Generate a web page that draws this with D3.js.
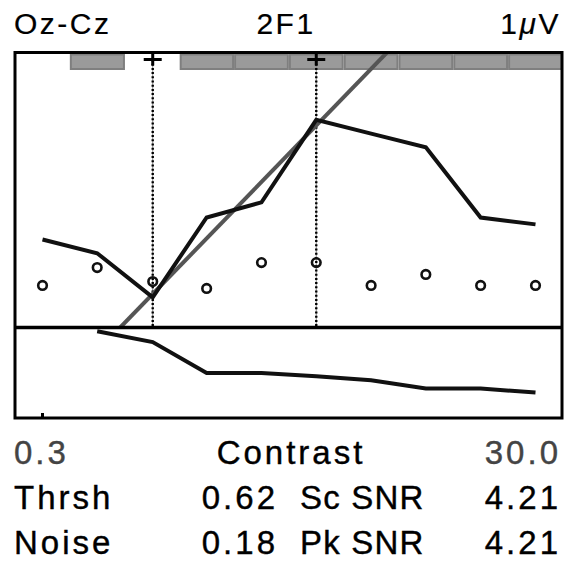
<!DOCTYPE html>
<html>
<head>
<meta charset="utf-8">
<script src="https://cdn.jsdelivr.net/npm/d3@7/dist/d3.min.js"></script>
<style>
  html, body { margin: 0; padding: 0; background: #fff; }
  svg { display: block; }
  text { font-family: "Liberation Sans", Arial, Helvetica, sans-serif; }
</style>
</head>
<body>
<svg id="chart" width="571" height="561"></svg>
<script>
// Sweep contrast levels (%), one per bin
const contrasts = [0.3, 0.5, 0.84, 1.39, 2.32, 3.87, 6.46, 10.77, 17.97, 30.0];
// 2F1 response amplitude (µV) per bin
const amplitude = [0.32, 0.27, 0.11, 0.40, 0.455, 0.755, 0.705, 0.655, 0.40, 0.375];
// Noise estimate (µV) per bin
const noise = [0.153, 0.218, 0.167, 0.142, 0.236, 0.236, 0.153, 0.193, 0.153, 0.153];
// Response phase (deg) per bin; null where not drawn
const phase = [null, 15, 58, 181, 181, 194, 210, 243, 243, 259];
// Bins flagged as significant (gray boxes along the top)
const significant = [0, 1, 0, 1, 1, 1, 1, 1, 1, 1];
// Regression fit: threshold contrast and slope (µV per log10 unit)
const threshold = 0.62;
const slope = 0.924;
// Contrast range used for the fit (marked with dotted lines)
const fitRange = [0.84, 3.87];
// Labels
const titleLabels = ["Oz-Cz", "2F1", "1\u03bcV"];
const axisLabels = ["0.3", "Contrast", "30.0"];
const statRows = [
  ["Thrsh", "0.62", "Sc SNR", "4.21"],
  ["Noise", "0.18", "Pk SNR", "4.21"]
];

const svg = d3.select("#chart");

// frame geometry
const fLeft = 15, fRight = 562, fTop = 52.5, fMid = 327.5, fBottom = 418;

const x = d3.scaleLog().domain([0.3, 30]).range([42.5, 535.5]);
const yAmp = d3.scaleLinear().domain([0, 1]).range([fMid, fTop]);
const yPh = d3.scaleLinear().domain([0, 360]).range([fMid, fBottom]);

// bin edges: midpoints between neighbouring levels on the log axis
const lx = contrasts.map(c => x(c));
const edges = lx.map((v, i) => {
  const prev = i > 0 ? lx[i - 1] : v - (lx[1] - lx[0]);
  const next = i < lx.length - 1 ? lx[i + 1] : v + (lx[1] - lx[0]);
  return [(prev + v) / 2, (v + next) / 2];
});

// significance boxes
svg.append("g").selectAll("rect")
  .data(significant.map((s, i) => ({ s, e: edges[i] })).filter(d => d.s))
  .join("rect")
  .attr("x", d => d.e[0] + 1)
  .attr("y", fTop + 2)
  .attr("width", d => d.e[1] - d.e[0] - 2)
  .attr("height", 14.5)
  .attr("fill", "#9a9a9a")
  .attr("stroke", "#7f7f7f")
  .attr("stroke-width", 2);

// dotted markers for the fit range
const markers = svg.append("g");
fitRange.forEach(c => {
  const xv = x(c);
  markers.append("line")
    .attr("x1", xv).attr("x2", xv).attr("y1", fTop + 7).attr("y2", fMid)
    .attr("stroke", "#888").attr("stroke-width", 1);
  markers.append("line")
    .attr("x1", xv).attr("x2", xv).attr("y1", fTop + 7).attr("y2", fMid)
    .attr("stroke", "#000").attr("stroke-width", 2.4)
    .attr("stroke-dasharray", "2,2.2");
  markers.append("line")
    .attr("x1", xv - 9).attr("x2", xv + 9).attr("y1", fTop + 7).attr("y2", fTop + 7)
    .attr("stroke", "#000").attr("stroke-width", 3);
  markers.append("line")
    .attr("x1", xv).attr("x2", xv).attr("y1", fTop).attr("y2", fTop + 13)
    .attr("stroke", "#000").attr("stroke-width", 3);
});

// clip for the amplitude panel
svg.append("clipPath").attr("id", "ampClip")
  .append("rect").attr("x", fLeft).attr("y", fTop).attr("width", fRight - fLeft).attr("height", fMid - fTop);

// regression line from threshold upward
const fitAmp = c => slope * Math.log10(c / threshold);
svg.append("line")
  .attr("clip-path", "url(#ampClip)")
  .attr("x1", x(threshold)).attr("y1", yAmp(0))
  .attr("x2", x(30)).attr("y2", yAmp(fitAmp(30)))
  .attr("stroke", "#555").attr("stroke-width", 4);

// amplitude line
svg.append("path")
  .datum(amplitude.map((a, i) => [contrasts[i], a]))
  .attr("fill", "none")
  .attr("stroke", "#111")
  .attr("stroke-width", 4)
  .attr("stroke-linejoin", "miter")
  .attr("d", d3.line().x(d => x(d[0])).y(d => yAmp(d[1])));

// noise circles
svg.append("g").selectAll("circle")
  .data(noise.map((n, i) => [contrasts[i], n]))
  .join("circle")
  .attr("cx", d => x(d[0]))
  .attr("cy", d => yAmp(d[1]))
  .attr("r", 4.3)
  .attr("fill", "none")
  .attr("stroke", "#111")
  .attr("stroke-width", 2.6);

// phase line
svg.append("path")
  .datum(phase.map((p, i) => [contrasts[i], p]).filter(d => d[1] !== null))
  .attr("fill", "none")
  .attr("stroke", "#111")
  .attr("stroke-width", 4)
  .attr("d", d3.line().x(d => x(d[0])).y(d => yPh(d[1])));

// frame, divider and the low-end tick
svg.append("rect")
  .attr("x", fLeft).attr("y", fTop).attr("width", fRight - fLeft).attr("height", fBottom - fTop)
  .attr("fill", "none").attr("stroke", "#000").attr("stroke-width", 3);
svg.append("line")
  .attr("x1", fLeft).attr("x2", fRight).attr("y1", fMid).attr("y2", fMid)
  .attr("stroke", "#000").attr("stroke-width", 3.5);
svg.append("line")
  .attr("x1", x(0.3)).attr("x2", x(0.3)).attr("y1", fBottom - 5).attr("y2", fBottom)
  .attr("stroke", "#000").attr("stroke-width", 3);

// text helper: slight outline gives the heavier glyph weight;
// the Greek mu is set in italics as in a symbol font
function label(xp, yp, str, opts) {
  const o = Object.assign({ size: 33, ls: 3, anchor: "start", fill: "#000", sw: 0.4 }, opts);
  const t = svg.append("text")
    .attr("x", xp).attr("y", yp)
    .attr("text-anchor", o.anchor)
    .attr("font-size", o.size)
    .attr("letter-spacing", o.ls)
    .attr("fill", o.fill)
    .attr("stroke", o.fill)
    .attr("stroke-width", o.sw);
  str.split(/(\u03bc)/).filter(s => s.length).forEach(part => {
    const sp = t.append("tspan").text(part);
    if (part === "\u03bc") sp.attr("font-style", "italic");
  });
}

// title row
label(14, 34, titleLabels[0], { size: 30, ls: 2.5, sw: 0.2 });
label(286, 34, titleLabels[1], { size: 30, ls: 2.5, anchor: "middle", sw: 0.2 });
label(561, 34, titleLabels[2], { size: 30, ls: 2.5, anchor: "end", sw: 0.2 });

// axis row
label(14, 464, axisLabels[0], { fill: "#444" });
label(291, 464, axisLabels[1], { anchor: "middle" });
label(561, 464, axisLabels[2], { anchor: "end", fill: "#444" });

// statistics rows
statRows.forEach((row, r) => {
  const yb = 509 + r * 44.5;
  label(14, yb, row[0]);
  label(278, yb, row[1], { anchor: "end" });
  label(300, yb, row[2], { ls: 1.2 });
  label(561, yb, row[3], { anchor: "end" });
});
</script>
</body>
</html>
